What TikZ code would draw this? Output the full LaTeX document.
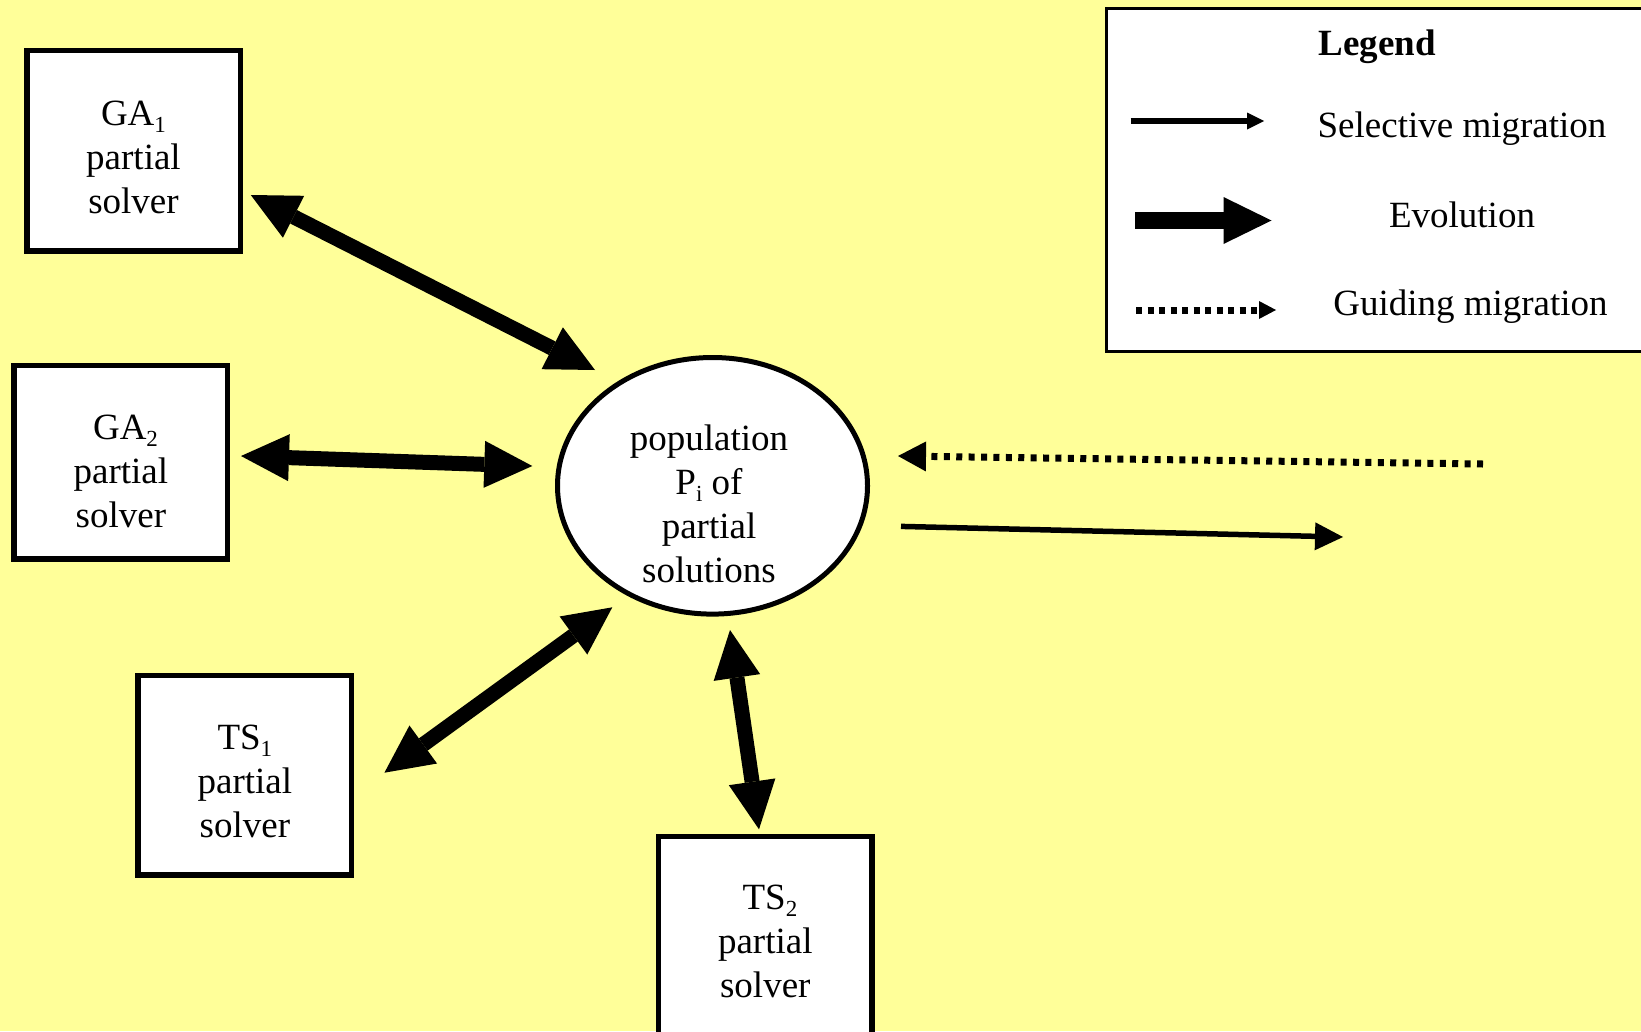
\documentclass[tikz,border=0pt]{standalone}
\usepackage{fontspec}
\setmainfont{Liberation Serif}
\usetikzlibrary{arrows.meta,shapes.geometric,calc}
\definecolor{bgyellow}{HTML}{FFFF99}
% strut that sets the height of a box's first text line
\newcommand{\firstline}[1][37pt]{\rule{0pt}{#1}}
% small lowered index, as in GA_1 or P_i
\newcommand{\idx}[1]{\raisebox{-7pt}{\fontsize{23}{23}\selectfont #1}}
\begin{document}
\begin{tikzpicture}[x=1pt,y=-1pt,
  txt/.style={font=\fontsize{37}{44}\selectfont, align=center, inner sep=0pt},
  solverbox/.style={draw, line width=5.5pt, fill=white, inner sep=0pt, txt},
  evo/.style={line width=15pt, >={Triangle[length=48pt,width=47pt,line width=0pt]}, <->},
  evolegend/.style={line width=17pt, >={Triangle[length=48pt,width=47pt,line width=0pt]}, ->},
  sel/.style={line width=5.5pt, >={Triangle[length=28pt,width=28pt,line width=0pt]}, ->},
  sellegend/.style={line width=5.5pt, >={Triangle[length=17pt,width=17pt,line width=0pt]}, ->},
  guide/.style={line width=7pt, dash pattern=on 6pt off 6.4pt, >={Triangle[length=28pt,width=30pt,line width=0pt]}, ->},
  guidelegend/.style={line width=7pt, dash pattern=on 6pt off 5.5pt, >={Triangle[length=17pt,width=18pt,line width=0pt]}, ->},
]
% canvas
\fill[bgyellow] (0,0) rectangle (1641,1031);
\useasboundingbox (0,0) rectangle (1641,1031);

% solver boxes
\node[solverbox, minimum width=213.5pt, minimum height=200.5pt] (ga1) at (133.5,150.8)
  {\firstline GA\idx{1}\\partial\\solver};
\node[solverbox, minimum width=213.5pt, minimum height=193.5pt] (ga2) at (120.9,462.1)
  {\firstline[44pt] GA\idx{2}\\partial\\solver};
\node[solverbox, minimum width=213.5pt, minimum height=199.5pt] (ts1) at (244.9,775)
  {\firstline TS\idx{1}\\partial\\solver};
\node[solverbox, minimum width=213.5pt, minimum height=201.5pt, anchor=north] (ts2) at (765.3,833.75)
  {\firstline[33pt] TS\idx{2}\\partial\\solver};

% central population
\node[ellipse, draw, line width=5pt, fill=white, minimum width=310pt, minimum height=256.6pt, inner sep=0pt] (pop) at (712.5,485.8) {};
\node[txt] (poptext) at (709,504) {population\\P\idx{i} of\\partial\\solutions};

% evolution links
\draw[evo] ([shift={(7.75,44.2)}]ga1.east) -- ($(pop.center)+(-117.5,-115.8)$);
\draw[evo] ([shift={(10.6,-6.1)}]ga2.east) -- ($(pop.center)+(-180.2,-19.8)$);
\draw[evo] ([shift={(30,-2.3)}]ts1.east) -- ($(pop.center)+(-100.2,121.5)$);
\draw[evo] ([shift={(-6.3,-4.45)}]ts2.north) -- ($(pop.center)+(17.5,144.2)$);

% migrations
\coordinate (gmsrc) at (1483,464);
\coordinate (smdst) at (1343,537);
\draw[guide] (gmsrc) -- ($(pop.center)+(185.5,-29.8)$);
\draw[sel] ($(pop.center)+(188.5,40.6)$) -- (smdst);

% legend
\node[draw, line width=3pt, fill=white, minimum width=558.5pt, minimum height=342.5pt, inner sep=0pt] (legend) at (1385.75,179.75) {};
\node[txt, font=\fontsize{37}{44}\selectfont\bfseries] (legendtitle) at (1377,47) {Legend};
\coordinate (sa) at (1130.7,121);
\coordinate (sb) at (1264,121);
\coordinate (ea) at (1135,220.5);
\coordinate (eb) at (1271.5,220.5);
\coordinate (ga) at (1136,310);
\coordinate (gb) at (1276,310);
\draw[sellegend] (sa) -- (sb);
\draw[evolegend] (ea) -- (eb);
\draw[guidelegend] (ga) -- (gb);
\node[txt] (seltext) at (1462,128.5) {Selective migration};
\node[txt] (evotext) at (1462,215) {Evolution};
\node[txt] (guidetext) at (1470.5,306.5) {Guiding migration};
\end{tikzpicture}
\end{document}
